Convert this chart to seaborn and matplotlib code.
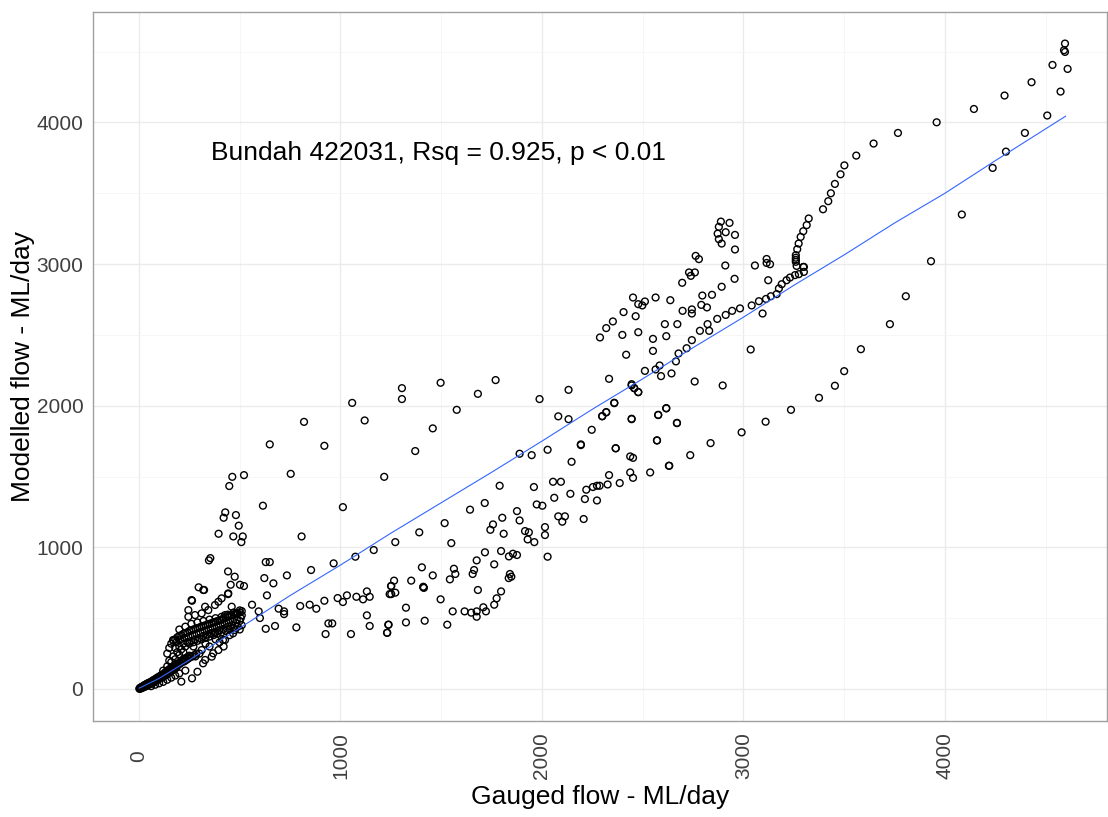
import pandas as pd
import numpy as np
import matplotlib.pyplot as plt
import seaborn as sns

# gauged vs modelled daily flow (ML/day)

# low flow cluster near the origin
low_gauged = [2, 5, 8, 10, 12, 15, 18, 20, 22, 25, 28, 30, 33, 35, 38, 40, 42, 45, 48, 50,
              55, 58, 60, 65, 68, 70, 75, 78, 80, 85, 88, 90, 95, 100, 105, 110, 115, 120, 125, 130,
              135, 140, 145, 150, 155, 160, 165, 170, 175, 180, 185, 190, 200, 210, 220, 230, 240, 250,
              60, 80, 100, 120, 140, 160, 180, 200, 230, 210, 263, 290, 318, 368, 417, 467]
low_modelled = [3, 8, 4, 12, 6, 15, 10, 20, 12, 25, 15, 30, 20, 32, 22, 38, 25, 40, 30, 45,
                35, 50, 42, 55, 45, 62, 50, 68, 58, 72, 60, 80, 68, 88, 75, 98, 80, 105, 90, 118,
                100, 130, 110, 140, 120, 150, 130, 160, 140, 170, 150, 180, 185, 200, 210, 215, 225, 235,
                20, 30, 40, 50, 65, 80, 95, 110, 130, 52, 75, 122, 181, 252, 346, 393]

# second pass over the dense part of the cluster
dense_gauged = [3, 7, 12, 17, 23, 27, 32, 37, 43, 47, 52, 57, 62, 67, 72, 77, 82, 87, 92, 97,
                102, 108, 112, 118, 122, 128, 132, 138, 142, 148, 152, 158, 162, 168, 172, 178, 182, 188,
                195, 205, 215, 225, 235, 245, 255, 265, 275, 285,
                120, 140, 160, 180, 200, 220, 150, 170, 190, 210, 230, 250, 270, 290, 310, 330, 350, 370,
                390, 410, 430, 450, 470, 490, 510, 505, 485, 465, 445, 425, 405, 385, 365, 345, 325, 305,
                285, 265, 245, 225, 205, 185]
dense_modelled = [1, 6, 10, 13, 18, 22, 26, 28, 34, 36, 40, 43, 48, 50, 56, 60, 64, 66, 72, 76,
                  82, 86, 90, 95, 100, 104, 110, 115, 120, 125, 130, 135, 140, 145, 150, 158, 160, 168,
                  170, 180, 190, 195, 205, 215, 225, 230, 240, 250,
                  130, 160, 190, 210, 240, 260, 200, 230, 260, 280, 300, 320, 330, 340, 350, 360, 370, 380,
                  390, 400, 410, 420, 430, 440, 450, 500, 490, 480, 470, 460, 450, 440, 430, 420, 410, 400,
                  390, 380, 370, 360, 350, 330]

# the thick arm above the fit line
arm_gauged = [140, 150, 160, 170, 180, 190, 200, 210, 220, 230, 240, 250, 260, 270, 280, 290, 300, 310,
              320, 330, 340, 350, 360, 370, 380, 390, 400, 410, 420, 430, 440, 450, 460, 470, 480, 490,
              500, 510,
              180, 200, 220, 240, 260, 280, 300, 320, 340, 360, 380, 400, 420, 440, 460, 480, 500,
              200, 230, 260, 290, 320, 350, 380, 410, 440, 470, 500, 510]
arm_modelled = [250, 290, 320, 340, 350, 365, 375, 380, 390, 395, 400, 410, 415, 420, 425, 430, 435, 440,
                445, 450, 455, 460, 465, 470, 475, 480, 485, 490, 500, 505, 510, 515, 520, 525, 530, 535,
                540, 550,
                290, 300, 320, 330, 340, 350, 360, 375, 385, 395, 405, 415, 425, 440, 450, 465, 480,
                420, 440, 460, 470, 480, 490, 500, 510, 525, 540, 555, 520]

# thin upper arm and scattered low flow points
thin_gauged = [169, 245, 278, 311, 344, 377, 410, 245, 261, 328, 394, 443, 319, 460, 485, 427,
               311, 361, 328, 394, 427, 476, 377, 350, 400, 450, 300, 280, 420, 500, 380, 330, 270,
               296, 323, 263, 442, 455, 501, 521, 354, 347, 442, 475, 395, 468, 515, 508, 495, 481,
               420, 428, 448, 463, 521, 561, 594, 600, 635, 622, 667, 629, 649, 615, 649, 753, 819]
thin_modelled = [346, 510, 522, 534, 557, 593, 640, 557, 628, 581, 616, 675, 699, 581, 534, 522,
                 275, 228, 205, 275, 346, 416, 393, 300, 330, 380, 250, 230, 300, 420, 350, 320, 300,
                 718, 699, 623, 670, 736, 736, 727, 924, 908, 830, 793, 1096, 1077, 1077, 1037, 1153, 1228,
                 1209, 1247, 1433, 1498, 1510, 595, 548, 501, 661, 783, 746, 896, 896, 1294, 1727, 1519, 1886]

# mid range flows
mid_gauged = [1058, 1120, 920, 1217, 1012, 807, 966, 1074, 1165, 734, 854, 693, 720, 720, 800, 847,
              880, 920, 986, 1012, 1032, 1079, 1112, 1131, 1145, 1131, 1145, 629, 675, 781, 940, 959,
              926, 1052, 1237, 1231, 1251, 1244,
              1305, 1305, 1497, 1682, 1770, 1577, 1458, 1371, 1988, 2132, 2081, 2132, 2247, 2299, 2319,
              2359, 2445, 2458, 2478, 2445, 2577, 2617, 2670, 2571, 2632, 2537, 2438, 2452, 2366, 2193,
              2193, 2147, 2028, 1949, 1889, 2438, 2452, 2333, 2326, 2386, 2253, 2273, 2286, 2220, 2213,
              2273, 2207, 2141, 2094, 2055, 2061, 2081, 2114, 2101, 1960, 1974, 2002, 1790, 1716, 1643,
              1876, 1889, 1803, 1757, 1744, 1810, 1916, 1935, 1929, 1962, 2015, 2015, 2028, 1517, 1391,
              1272, 1550, 1717, 1797, 1836, 1856, 1876, 1676, 1763, 1404, 1458, 1563, 1570, 1543, 1663,
              1656, 1841, 1835, 1848, 1351, 1266, 1252, 1272, 1252, 1411, 1411, 1414, 1682, 1797, 1775,
              1763, 1497, 1325, 1325, 1418, 1530, 1557, 1616, 1649, 1676, 1676, 1709, 1722, 1239, 1232]
mid_modelled = [2020, 1896, 1717, 1498, 1284, 1077, 887, 934, 981, 802, 840, 567, 548, 529, 586, 595,
                567, 623, 642, 614, 661, 651, 633, 689, 651, 520, 445, 425, 445, 435, 463, 463,
                388, 388, 454, 397, 727, 670,
                2124, 2047, 2162, 2084, 2181, 1971, 1840, 1680, 2047, 2112, 1925, 1905, 1830, 1925, 1953,
                2018, 2152, 2124, 2096, 1905, 1934, 1981, 1877, 1755, 1576, 1529, 1642, 1632, 1700, 1727,
                1722, 1604, 1689, 1651, 1661, 1529, 1491, 1510, 1444, 1454, 1426, 1435, 1435, 1407, 1341,
                1331, 1200, 1378, 1463, 1463, 1350, 1219, 1219, 1181, 1426, 1303, 1294, 1435, 1313, 1266,
                1256, 1190, 1209, 1162, 1124, 1096, 1115, 1106, 1056, 1037, 1143, 1087, 934, 1171, 1106,
                1037, 1030, 965, 974, 936, 955, 946, 908, 880, 859, 802, 849, 812, 774, 840,
                812, 812, 783, 793, 765, 765, 727, 680, 670, 718, 722, 714, 699, 689, 640,
                595, 633, 574, 470, 482, 454, 548, 548, 539, 548, 510, 577, 548, 454, 397]

# high flows
high_gauged = [2878, 2872, 2878, 2892, 2888, 2931, 2912, 2958, 2958, 2763, 2779, 2910, 2730, 2759, 2739,
               2696, 2892, 2956, 3057, 3115, 3115, 3132, 3123, 3300, 3300, 3275, 3256, 3231, 3214, 3190,
               3176, 3165, 3136, 3112, 3077, 3041, 2983, 2944, 2912, 2870, 3095, 3036, 2844, 2796, 2791,
               2819, 2784, 2822, 2830, 2637, 2744, 2744, 2698, 2564, 2452, 2478, 2498, 2511, 2405, 2465,
               2352, 2319, 2399, 2478, 2288, 2610, 2672, 2617, 2551, 2551, 2744, 2718, 2678, 2665, 2418,
               2511, 2564, 2584, 2591, 2643, 2445, 2458, 2478, 2333, 2359, 2758, 2897, 2299, 2319, 2445,
               2577, 2617, 2670, 2366, 2571, 2837, 2736, 2630, 2991, 3110, 3236, 3375, 3454, 3500, 3583,
               3727, 3806, 3931, 4084, 4237, 4303,
               3454, 3434, 3421, 3395, 3324, 3314, 3297, 3284, 3274, 3267, 3260, 3260, 3260, 3260, 3264,
               3297, 3482, 3501, 3560, 3646, 3767, 3959, 4144, 4296, 4430, 4534, 4508, 4397, 4574, 4596,
               4591, 4596, 4609]
high_modelled = [3263, 3215, 3176, 3145, 3300, 3291, 3225, 3206, 3103, 3058, 3035, 2990, 2941, 2941, 2917,
                 2868, 2840, 2896, 2990, 3036, 3008, 2999, 2886, 2980, 2945, 2929, 2922, 2905, 2886, 2858,
                 2828, 2788, 2773, 2754, 2738, 2708, 2687, 2670, 2641, 2613, 2651, 2397, 2783, 2778, 2712,
                 2694, 2529, 2576, 2529, 2745, 2680, 2651, 2670, 2764, 2764, 2717, 2708, 2736, 2661, 2632,
                 2595, 2548, 2500, 2519, 2482, 2576, 2576, 2491, 2472, 2387, 2463, 2406, 2369, 2313, 2360,
                 2246, 2256, 2284, 2209, 2228, 2143, 2124, 2096, 2190, 2021, 2171, 2143, 1927, 1955, 1908,
                 1936, 1983, 1879, 1699, 1755, 1736, 1651, 1576, 1812, 1887, 1971, 2056, 2141, 2244, 2399,
                 2576, 2773, 3020, 3350, 3679, 3794,
                 3566, 3500, 3444, 3387, 3322, 3275, 3232, 3192, 3145, 3105, 3063, 3045, 3030, 3016, 2987,
                 2980, 3634, 3697, 3766, 3851, 3926, 4001, 4095, 4190, 4284, 4406, 4049, 3926, 4218, 4557,
                 4510, 4498, 4378]

# fitted smooth line
smooth_x = [0, 100, 250, 500, 750, 1000, 1250, 1500, 1750, 2000, 2250, 2500, 2750, 3000, 3250,
            3500, 3750, 4000, 4250, 4600]
smooth_y = [5, 75, 205, 430, 660, 875, 1100, 1315, 1530, 1750, 1975, 2190, 2410, 2625, 2850,
            3065, 3290, 3500, 3730, 4045]

df = pd.DataFrame({
    'gauged': low_gauged + dense_gauged + arm_gauged + thin_gauged + mid_gauged + high_gauged,
    'modelled': low_modelled + dense_modelled + arm_modelled + thin_modelled + mid_modelled + high_modelled,
})
fit = pd.DataFrame({'gauged': smooth_x, 'modelled': smooth_y})

sns.set_theme(style='whitegrid')
plt.rcParams['font.family'] = ['Liberation Sans', 'DejaVu Sans']

fig = plt.figure(figsize=(11.08, 8.17), dpi=100)
ax = fig.add_axes([0.084, 0.1175, 0.915, 0.8675])

sns.scatterplot(data=df, x='gauged', y='modelled', ax=ax, marker='o', s=24,
                color='black', linewidth=1.0, legend=False, zorder=3)
ax.collections[0].set_facecolor('none')
ax.collections[0].set_edgecolor('black')

sns.lineplot(data=fit, x='gauged', y='modelled', ax=ax, color='#3366FF', linewidth=0.8, zorder=4)

ax.set_xlim(-228, 4804)
ax.set_ylim(-226, 4778)
ax.set_xticks([0, 1000, 2000, 3000, 4000])
ax.set_yticks([0, 1000, 2000, 3000, 4000])
ax.set_xticks([500, 1500, 2500, 3500, 4500], minor=True)
ax.set_yticks([500, 1500, 2500, 3500, 4500], minor=True)
ax.grid(which='major', color='#EBEBEB', linewidth=1.0)
ax.grid(which='minor', color='#F5F5F5', linewidth=0.6)
ax.set_axisbelow(True)

for s in ax.spines.values():
    s.set_color('#A0A0A0')
    s.set_linewidth(1.0)

ax.tick_params(axis='both', which='major', length=4, width=1, color='#A0A0A0',
               labelsize=15, labelcolor='#404040')
ax.tick_params(axis='both', which='minor', length=0)
ax.tick_params(axis='x', pad=21)
ax.tick_params(axis='y', pad=3)
plt.setp(ax.get_xticklabels(), rotation=90, va='center', ha='center')

ax.set_xlabel('Gauged flow - ML/day', fontsize=19, color='black', labelpad=4)
ax.set_ylabel('Modelled flow - ML/day', fontsize=19, color='black', labelpad=1)

ax.text(1484, 3783, 'Bundah 422031, Rsq = 0.925, p < 0.01', fontsize=19,
        ha='center', va='center', color='black')

fig.savefig('out.png', dpi=100)
